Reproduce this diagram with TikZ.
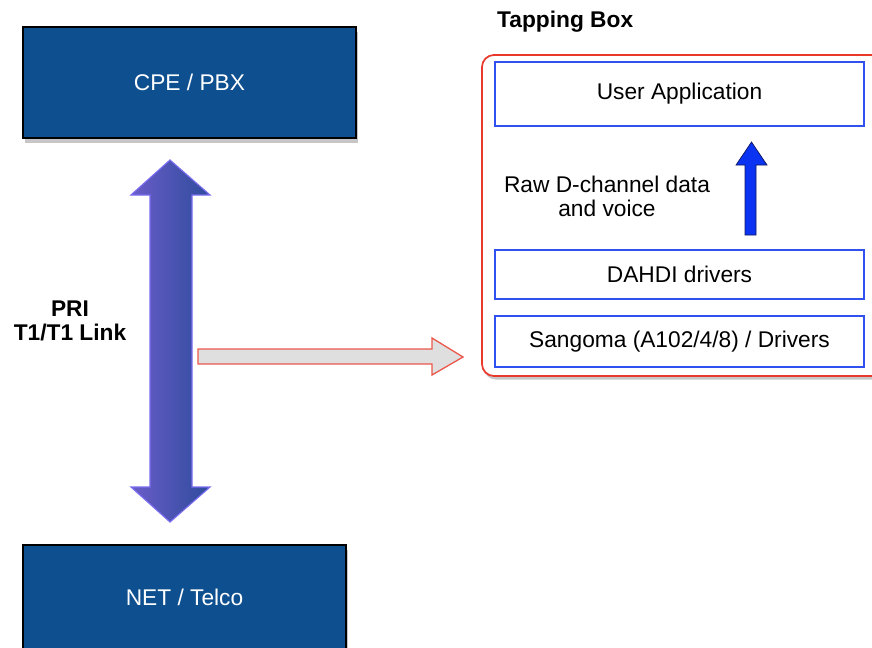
\documentclass[tikz,border=0pt]{standalone}
\usepackage{fontspec}
\setmainfont{Liberation Sans}
\usepackage{tikz}
\usetikzlibrary{shadows}

\definecolor{boxblue}{HTML}{0D4F8F}
\definecolor{tapred}{HTML}{E8392A}
\definecolor{layerblue}{HTML}{3050F0}
\definecolor{linkleft}{HTML}{6B5CC9}
\definecolor{linkright}{HTML}{2E4C9C}
\definecolor{linkedge}{HTML}{7A6CF0}
\definecolor{upblue}{HTML}{0B33F2}
\definecolor{upedge}{HTML}{101A60}

\tikzset{
  txt/.style={font=\fontsize{19.4}{20.5}\selectfont},
  endbox/.style={txt, draw=black, line width=1.2pt, fill=boxblue, text=white,
    drop shadow={opacity=0.45, shadow xshift=1.5pt, shadow yshift=-4pt}},
  tapbox/.style={draw=tapred, line width=1.5pt, fill=white, rounded corners=0.36cm,
    drop shadow={opacity=0.45, shadow xshift=1.5pt, shadow yshift=-3pt}},
  layer/.style={txt, draw=layerblue, line width=1.1pt, fill=white,
    minimum width=11.07cm, inner sep=0pt},
}

\begin{document}
\begin{tikzpicture}[x=0.03cm,y=-0.03cm]
\useasboundingbox (0,0) rectangle (872,648);
% End points of the line
\node[endbox, minimum width=9.99cm, minimum height=3.33cm] (cpe) at (189.5,82.5) {CPE / PBX};
\node[endbox, minimum width=9.69cm, minimum height=3.12cm] (net) at (184.5,597) {NET / Telco};
% The PRI link
\shade[left color=linkleft, right color=linkright, draw=linkedge, line width=1pt]
  (170,160) -- (210,195) -- (192,195) -- (192,487) -- (210,487) -- (170,522)
  -- (131,487) -- (150,487) -- (150,195) -- (131,195) -- cycle;
\node[txt, font=\fontsize{19.4}{20.5}\selectfont\bfseries, align=center] (pri) at (70,321) {PRI\\T1/T1 Link};
% Tap into the box
\filldraw[fill=gray!25, draw=tapred!85!white, line width=1.1pt]
  (198,349) -- (432,349) -- (432,338) -- (463,357) -- (432,375) -- (432,364) -- (198,364) -- cycle;
% Tapping Box
\node[txt, font=\fontsize{19.4}{20.5}\selectfont\bfseries, anchor=west, inner sep=0pt] (taplabel) at (497,22) {Tapping Box};
\node[tapbox, minimum width=12.09cm, minimum height=9.63cm] (tap) at (683.5,215.5) {};
% Layers inside
\node[layer, minimum height=1.92cm] (app) at (679.5,94) {User Application};
\node[layer, minimum height=1.47cm] (dahdi) at (679.5,274.5) {DAHDI drivers};
\node[layer, minimum height=1.53cm] (sangoma) at (679.5,341.5) {Sangoma (A102/4/8) / Drivers};
% Data going up
\filldraw[fill=upblue, draw=upedge, line width=0.6pt]
  (745,235) -- (745,165) -- (736,165) -- (751.5,142) -- (767,165) -- (756,165) -- (756,235) -- cycle;
\node[txt, align=center] (raw) at (607,196) {Raw D-channel data\\and voice};
\end{tikzpicture}
\end{document}
